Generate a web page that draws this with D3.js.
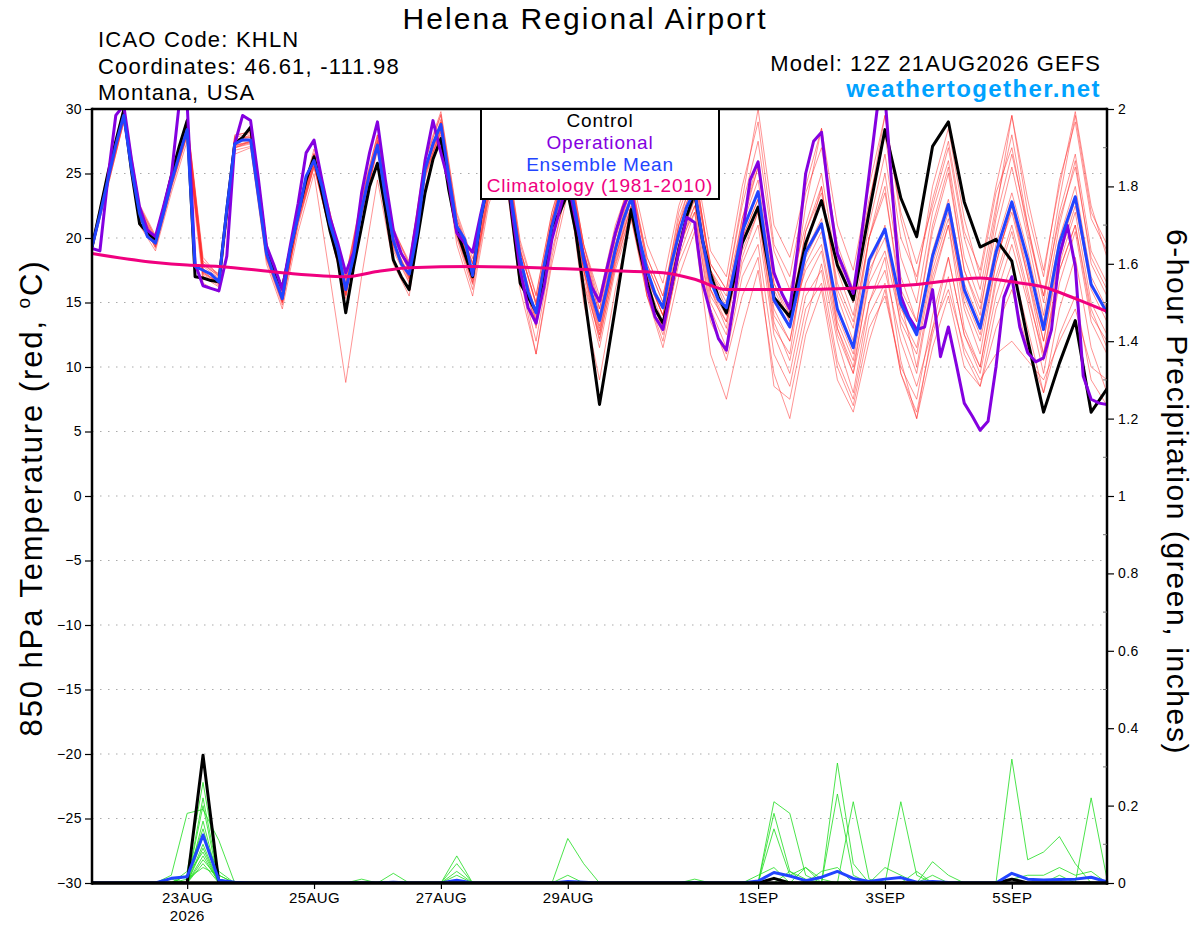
<!DOCTYPE html>
<html><head><meta charset="utf-8">
<script src="https://cdn.jsdelivr.net/npm/d3@7"></script>
<style>
body{margin:0;background:#fff}
text{font-family:"Liberation Sans",Arial,Helvetica,sans-serif}
</style>
</head><body>
<svg id="c" width="1200" height="927"></svg>
<script>
// ---------------- DATA ----------------
const hoursOp = d3.range(0, 385, 3);                               // operational: 3-hourly
const hoursMain = d3.range(0, 241, 3).concat(d3.range(246, 385, 6)); // control / mean
const hours6 = d3.range(0, 385, 6);                                // members, precip

const operationalT = [
 19.2,19.0,24.6,29.5,30.3,26.0,22.4,20.6,
 20.1,22.4,24.8,30.4,30.4,18.0,16.3,16.1,
 15.9,18.6,27.3,29.5,29.1,24.5,19.4,17.8,
 16.0,19.4,22.7,26.6,27.6,24.5,21.6,19.6,
 17.3,18.9,23.5,26.6,29.0,24.5,20.6,18.8,
 17.8,21.6,26.0,29.1,26.6,24.3,20.4,19.6,
 18.9,21.8,24.5,27.0,27.5,22.0,17.5,14.6,
 13.4,16.2,19.9,22.2,24.5,21.4,18.5,16.2,
 15.1,17.8,20.4,22.4,23.8,20.0,16.2,13.9,
 12.9,16.0,19.0,21.6,21.2,16.5,14.2,12.2,
 11.3,15.2,20.2,24.5,25.9,21.4,17.3,15.7,
 14.5,19.2,25.0,27.5,28.2,22.9,18.8,17.3,
 15.7,20.0,24.9,29.9,31.0,23.0,15.5,13.9,
 12.9,13.1,16.0,10.8,13.1,10.2,7.2,6.2,
 5.1,5.8,10.0,15.4,17.0,13.1,11.1,10.4,
 10.7,12.9,18.6,21.0,17.8,9.3,7.5,7.2,
 7.1];

const controlT = [
 19.3,22.1,25.0,27.5,29.9,25.1,21.1,20.4,
 19.9,22.2,24.8,27.1,29.1,17.0,16.9,16.7,
 16.6,22.2,27.3,27.8,28.6,24.0,19.1,17.5,
 16.1,19.1,21.9,24.5,26.3,23.5,20.6,18.3,
 14.2,17.8,20.9,24.0,25.8,22.2,18.3,17.0,
 16.0,19.8,23.5,26.1,27.7,23.7,20.6,18.8,
 17.0,21.5,24.5,26.0,26.5,21.5,16.5,15.4,
 14.3,16.5,20.9,22.0,23.5,20.5,16.0,11.5,
 7.1,10.8,14.6,18.5,22.2,19.2,16.6,14.5,
 13.4,16.0,19.1,21.7,23.5,19.8,17.2,15.4,
 14.2,
 19.6,22.4,15.4,13.9,19.6,22.9,17.9,15.2,
 22.0,28.4,23.1,20.1,27.1,29.0,22.8,19.3,
 19.9,18.2,12.1,6.5,10.3,13.6,6.5,8.3];

const meanT = [
 19.3,21.8,24.5,27.2,29.5,25.3,21.9,20.1,
 19.6,21.9,24.3,26.4,28.4,17.8,17.5,17.2,
 16.6,22.2,27.3,27.6,27.6,23.2,18.8,17.0,
 15.3,19.1,21.7,24.8,26.0,24.0,21.1,19.1,
 16.0,18.6,22.2,25.0,27.2,23.2,19.8,18.0,
 17.2,20.4,25.3,27.3,28.8,24.8,20.9,19.9,
 17.1,21.5,24.5,26.5,27.0,22.5,18.5,15.8,
 14.2,17.8,20.9,23.2,25.0,21.9,18.3,15.7,
 13.6,16.3,19.1,21.4,23.1,20.0,17.5,15.7,
 14.6,17.8,20.3,22.4,23.7,19.8,16.7,15.2,
 14.6,
 20.5,23.6,15.2,13.1,18.9,21.1,14.5,11.5,
 18.3,20.7,14.9,12.5,18.6,22.6,16.0,13.0,
 18.9,22.8,18.3,12.9,19.6,23.2,16.4,14.2];

const climHours = [0,24,36,48,72,96,108,120,144,168,192,216,228,240,264,288,312,336,348,360,372,384];
const climT     = [18.8,18.1,17.9,17.8,17.3,17.0,17.4,17.7,17.8,17.7,17.5,17.3,16.8,16.0,16.0,16.1,16.4,16.9,16.6,16.2,15.3,14.3];

const memberT = [
 [19.5,25.0,30.0,22.5,20.0,24.5,29.0,18.0, 17.0,27.5,28.0,19.5,16.0,22.5,26.5,21.5, 16.5,23.0,28.0,20.5,18.0,26.0,29.5,21.5, 18.0,25.0,28.0,19.5,15.5,22.0,26.5,19.5, 15.0,20.5,25.0,19.5,16.5,22.5,26.0,19.0, 17.0,24.0,29.0,19.5,17.0,23.5,27.0,19.5, 16.0,23.0,28.0,20.0,17.0,23.0,27.5,20.5, 17.5,24.0,29.5,22.0,17.0,24.5,29.0,21.5,19.0],
 [19.0,24.0,29.0,21.5,19.5,24.0,28.0,17.0, 16.5,27.0,27.5,18.5,15.0,21.0,25.5,20.5, 15.5,22.0,27.0,19.5,17.0,25.0,29.0,21.0, 17.5,24.5,27.5,19.0,15.0,21.5,26.0,19.0, 14.0,20.0,24.0,18.5,15.5,21.5,25.0,18.0, 16.0,23.0,30.0,21.0,18.5,24.0,28.5,21.0, 17.5,24.0,29.5,22.0,18.0,22.5,27.0,20.0, 16.0,22.5,28.0,21.0,15.0,22.0,26.5,19.0,16.5],
 [19.4,24.8,29.8,22.2,19.8,25.0,29.2,18.5, 17.0,28.0,28.2,19.5,15.5,22.0,26.5,22.0, 17.0,23.0,27.5,20.0,17.5,25.5,29.0,21.5, 18.0,24.5,27.0,18.0,13.0,20.0,25.0,17.5, 12.5,18.5,23.0,17.0,14.0,21.0,25.5,17.5, 15.0,21.0,25.5,17.5,14.0,22.5,28.5,18.5, 15.0,22.5,29.5,21.5,16.5,24.0,28.5,21.5, 17.0,23.5,27.0,20.5,15.5,23.0,29.5,22.0,19.5],
 [19.2,24.3,29.2,21.5,19.3,24.0,28.0,17.0, 16.2,27.0,27.3,18.3,14.8,21.3,25.5,20.5, 15.3,21.8,27.0,19.0,16.5,24.8,28.5,20.3, 16.5,23.5,26.5,18.0,13.5,20.5,25.0,17.5, 13.0,18.5,22.5,17.0,14.0,19.5,23.0,16.0, 14.0,20.0,23.0,14.5,12.0,18.0,20.5,13.5, 10.5,17.5,20.0,14.0,11.5,18.0,22.0,15.0, 12.0,18.0,22.5,17.5,12.0,19.0,23.0,16.0,13.5],
 [19.6,24.8,29.6,22.3,19.9,24.6,28.7,17.8, 16.9,27.6,27.9,19.2,15.6,22.0,26.3,21.4, 16.4,22.6,27.6,20.3,17.6,25.6,28.9,21.0, 17.3,24.3,27.3,19.0,14.8,21.3,26.0,19.0, 14.5,20.0,24.0,17.0,14.0,20.0,23.0,15.5, 13.5,19.5,22.5,14.0,12.0,18.5,21.0,14.0, 11.0,18.0,20.5,14.5,12.5,19.0,23.0,16.5, 13.5,19.5,23.5,19.0,13.5,20.0,24.0,17.0,14.5],
 [19.1,24.2,29.0,21.6,19.2,23.8,27.9,17.2, 16.3,26.8,27.1,18.4,15.0,21.2,25.6,20.7, 15.6,21.7,26.8,19.3,16.8,24.8,28.4,20.4, 16.6,23.6,26.6,18.0,13.8,20.2,24.8,17.6, 12.8,18.2,22.4,16.8,14.0,19.5,22.5,16.0, 13.5,21.0,24.5,16.0,13.5,17.5,19.5,13.0, 10.0,16.5,19.0,13.5,11.0,17.5,21.5,15.5, 12.5,18.5,22.0,17.0,12.0,18.5,22.5,16.5,14.0],
 [19.3,24.6,29.4,21.8,19.5,24.2,28.2,17.4, 16.5,27.2,27.4,18.6,15.2,21.5,25.8,20.9, 15.8,22.0,27.0,19.5,16.8,25.0,28.2,20.0, 16.0,23.0,26.0,17.0,12.0,19.0,24.0,16.5, 11.5,17.5,21.5,15.5,12.5,18.0,21.0,13.5, 11.0,17.0,19.5,11.0,8.5,14.5,16.5,10.0, 7.0,13.0,15.5,10.0,7.5,14.0,18.5,12.5, 9.5,15.5,19.5,15.0,9.5,16.5,20.5,13.5,11.0],
 [19.4,24.4,29.3,21.7,19.4,24.4,28.5,17.6, 16.7,27.4,27.6,18.9,15.1,21.6,25.9,21.0, 15.9,22.3,27.3,19.6,16.9,25.2,28.7,20.6, 16.8,23.8,26.8,18.2,13.5,20.5,25.0,17.5, 12.0,18.0,22.0,15.5,12.0,18.5,22.0,14.5, 11.5,18.0,21.0,12.5,9.5,15.5,17.5,10.5, 7.5,14.0,16.5,9.5,6.5,12.5,17.0,11.0, 8.5,14.5,18.0,13.0,8.0,14.5,18.5,11.5,8.0],
 [19.0,24.0,29.0,21.0,19.0,23.5,27.5,16.5, 15.8,26.5,27.0,18.0,14.5,20.5,25.0,17.0, 8.8,17.0,24.5,18.0,15.5,24.0,28.0,19.5, 15.5,22.5,26.5,17.0,11.0,18.5,24.5,15.0, 9.0,16.0,21.5,16.0,13.0,19.0,24.0,17.0, 14.0,19.0,22.0,13.0,11.0,19.0,24.0,16.0, 13.0,20.0,24.0,15.0,10.0,17.0,21.0,13.0, 10.0,17.0,21.0,16.0,10.5,17.5,21.0,14.0,12.0],
 [19.5,24.6,29.7,22.0,19.7,24.7,28.8,17.9, 17.1,27.7,27.8,19.0,15.4,21.9,26.2,21.3, 16.2,22.4,27.4,20.0,17.4,25.4,29.2,21.2, 17.4,24.2,27.2,18.6,14.0,21.0,25.8,18.5, 13.5,19.5,23.5,15.5,11.5,17.0,20.5,11.0, 7.5,13.0,17.5,9.5,6.0,12.5,16.0,9.0, 6.5,12.0,16.0,9.5,6.0,11.5,15.5,10.0, 8.5,13.0,16.0,11.5,8.0,12.5,15.5,9.0,7.0],
 [19.2,24.7,29.9,22.4,20.1,24.9,29.0,18.2, 17.2,27.8,28.1,19.4,15.8,22.2,26.6,21.8, 16.8,22.8,27.8,20.6,18.2,26.2,29.8,22.0, 18.4,25.0,27.8,19.8,15.6,22.0,26.0,19.5, 15.5,21.0,24.5,18.0,15.0,22.0,25.5,17.5, 14.5,21.5,26.0,16.5,13.5,20.5,24.0,15.5, 12.0,20.0,25.0,17.0,13.5,20.5,25.0,17.5, 14.0,21.5,26.5,21.0,15.5,21.5,25.5,18.5,16.0],
 [19.3,24.4,29.4,21.9,19.6,24.3,28.3,17.3, 16.4,27.1,27.5,18.7,15.2,21.7,26.1,20.8, 15.6,22.0,27.1,19.6,17.0,25.1,28.6,20.8, 16.8,23.0,25.5,16.0,11.0,18.0,23.5,16.5, 12.5,18.5,22.5,17.0,14.5,20.5,24.0,16.0, 13.0,20.0,23.0,15.0,13.0,19.0,21.5,13.0, 9.5,17.0,21.0,13.0,9.5,16.5,21.0,14.5, 11.0,18.0,22.5,17.0,11.0,18.0,22.0,15.0,12.5],
 [19.6,25.2,30.2,22.6,20.2,24.8,29.3,18.0, 17.2,27.9,28.3,19.6,16.0,22.4,26.9,22.0, 17.0,23.2,28.0,20.8,18.0,26.0,29.6,21.8, 18.0,24.8,27.6,19.0,15.0,21.5,26.5,19.5, 14.5,20.5,24.5,18.5,15.5,21.0,24.5,18.0, 16.0,22.5,27.5,19.0,16.0,21.0,25.0,17.5, 14.0,21.0,26.5,18.5,15.0,22.0,26.0,18.5, 15.0,22.0,29.5,23.0,17.5,24.0,29.8,22.5,18.5],
 [19.4,24.5,29.5,21.8,19.4,24.2,28.2,17.3, 16.5,27.2,27.5,18.6,15.0,21.4,25.7,20.6, 15.6,21.8,26.9,19.2,16.6,24.6,28.3,20.2, 16.4,23.3,26.4,17.6,13.2,19.8,24.6,17.0, 12.2,17.8,22.0,16.0,13.0,19.0,22.5,15.0, 12.5,18.5,22.0,13.5,10.5,16.5,19.0,12.5, 9.5,15.0,17.5,12.0,8.5,13.0,16.0,11.5, 9.0,11.0,12.0,10.5,9.0,12.0,14.5,10.0,9.0],
 [19.1,24.9,29.6,22.1,19.8,24.5,28.6,17.6, 16.8,27.5,27.8,19.0,15.5,22.0,26.2,21.2, 16.2,22.4,27.4,20.1,17.5,25.5,29.0,21.2, 17.5,24.5,27.5,19.2,14.8,21.5,26.0,19.0, 14.0,19.5,24.0,18.0,15.0,21.0,24.5,17.5, 15.5,21.5,25.5,16.5,14.0,20.5,23.5,16.5, 13.5,20.0,23.5,16.0,13.5,21.0,25.5,17.5, 14.5,20.5,25.5,20.0,14.0,21.0,26.0,18.0,15.5],
 [19.3,24.3,29.2,21.6,19.3,24.0,28.1,17.4, 16.5,27.0,27.4,18.5,15.1,21.6,25.9,20.8, 15.8,22.1,27.1,19.7,17.1,25.2,28.9,20.8, 17.0,24.0,27.0,18.4,14.2,20.8,25.3,18.0, 13.2,19.0,23.0,16.5,13.5,19.5,22.0,14.0, 10.5,15.5,18.5,8.5,7.5,13.5,18.0,12.0, 8.0,15.0,18.5,10.5,6.0,13.0,18.5,12.5, 10.0,16.5,20.5,15.5,11.0,17.5,21.0,14.5,11.5]
];

const Z8 = [0,0,0,0,0,0,0,0];
const controlP = [0,0,0,0,0,0,0,0.33, ...Z8, ...Z8, ...Z8, ...Z8, 0,0,0,0.012,0,0,0,0, ...Z8, 0,0,0.01,0,0,0,0,0, 0];
const meanP = [
 0,0,0,0,0,0.012,0.016,0.124,
 0.007,0.002,0,0,0,0,0,0,
 0,0,0,0.002,0,0,0,0.007,
 0,0,0,0,0,0,0.004,0.002,
 0,0,0,0,0,0,0.001,0,
 0,0,0.005,0.027,0.018,0.006,0.015,0.03,
 0.012,0.004,0.01,0.014,0.002,0.004,0.001,0,
 0,0,0.025,0.01,0.008,0.009,0.01,0.015,
 0.003];
const memberP = [
 [0,0,0,0,0,0,0.03,0.26, 0.02,0,0,0,0,0,0,0, ...Z8,...Z8,...Z8, 0,0,0,0.21,0.18,0.02,0,0, ...Z8,...Z8, 0],
 [0,0,0,0,0,0.02,0.18,0.19, 0.11,0,0,0,0,0,0,0, ...Z8,...Z8,...Z8, 0,0,0,0,0,0,0,0.31, 0.05,0,0,0,0,0,0,0, 0,0,0.32,0.06,0.08,0.12,0.05,0, 0],
 [0,0,0,0,0,0,0,0.22, 0.01,0,0,0,0,0,0,0, 0,0,0,0,0,0,0,0.07, ...Z8,...Z8, 0,0,0,0.18,0.03,0,0,0.23, 0.02,0,0,0,0,0,0,0, ...Z8, 0],
 [0,0,0,0,0,0,0,0.2, ...Z8, 0,0,0,0,0,0,0,0.05, 0,0,0,0,0,0,0.115,0.05, ...Z8,...Z8, 0.21,0.01,0,0.21,0.02,0,0,0, ...Z8, 0],
 [0,0,0,0,0,0,0,0.16, ...Z8, 0,0,0,0.025,0,0,0,0, ...Z8,...Z8, 0,0,0,0.14,0.02,0.04,0,0, 0,0,0,0,0,0.055,0.02,0, 0,0,0,0,0,0,0,0.22, 0.01],
 [0,0,0,0,0,0,0.02,0.14, ...Z8, 0,0,0,0,0,0,0,0.03, ...Z8,...Z8, 0,0,0,0,0,0.04,0.01,0, ...Z8, 0,0,0.01,0.02,0.02,0.04,0.02,0.03, 0],
 [0,0,0,0,0,0,0,0.12, 0.03,0,0,0,0,0,0,0, ...Z8,...Z8,...Z8,...Z8, 0,0,0.04,0.02,0,0,0,0, ...Z8, 0],
 [0,0,0,0,0,0,0,0.1, ...Z8,...Z8,...Z8,...Z8, 0,0,0.02,0.04,0,0,0,0, 0,0,0,0,0.03,0,0,0, ...Z8, 0],
 [0,0,0,0,0,0,0,0.09, ...Z8,...Z8, 0,0,0,0,0,0,0.02,0, ...Z8, 0,0,0,0,0,0,0.03,0.04, ...Z8,...Z8, 0],
 [0,0,0,0,0,0,0.02,0.08, ...Z8, 0,0,0,0,0,0,0,0.02, ...Z8,...Z8, 0,0,0,0,0.03,0.01,0,0, ...Z8,...Z8, 0],
 [0,0,0,0,0,0,0,0.07, ...Z8,...Z8,...Z8, 0,0,0,0,0,0,0.01,0, ...Z8, 0,0,0,0,0,0.02,0,0, ...Z8, 0],
 [0,0,0,0,0,0,0,0.06, 0.01,0,0,0,0,0,0,0, ...Z8,...Z8,...Z8,...Z8,...Z8, 0,0,0,0,0,0.02,0,0, 0],
 [0,0,0,0,0,0.01,0,0.05, ...Z8,...Z8,...Z8,...Z8,...Z8,...Z8,...Z8, 0],
 [0,0,0,0,0,0,0.01,0.04, 0.02,0,0,0,0,0,0,0, 0,0.01,0,0,0,0,0,0, ...Z8,...Z8,...Z8,...Z8,...Z8, 0]
];

const tempTicks = [-30,-25,-20,-15,-10,-5,0,5,10,15,20,25,30];
const precipTicks = [0,0.2,0.4,0.6,0.8,1,1.2,1.4,1.6,1.8,2];
const precipMinor = [0.1,0.3,0.5,0.7,0.9,1.1,1.3,1.5,1.7,1.9];
const dateTickHours = [36,84,132,180,252,300,348];
const dateTickLabels = ["23AUG","25AUG","27AUG","29AUG","1SEP","3SEP","5SEP"];
const yearLabel = "2026";

const legendItems = [
 {label:"Control", color:"#000000"},
 {label:"Operational", color:"#8400e0"},
 {label:"Ensemble Mean", color:"#2244ff"},
 {label:"Climatology (1981-2010)", color:"#f0007f"}
];

// ---------------- DRAW ----------------
const svg = d3.select("#c");
svg.append("rect").attr("width",1200).attr("height",927).attr("fill","#fff");

const L = 92, R = 1107, T = 109, B = 883;
const x = d3.scaleLinear().domain([0,384]).range([L,R]);
const yT = d3.scaleLinear().domain([-30,30]).range([B,T]);
const yP = d3.scaleLinear().domain([0,2]).range([B,T]);

svg.append("defs").append("clipPath").attr("id","clip")
  .append("rect").attr("x",L).attr("y",T).attr("width",R-L).attr("height",B-T);

// gridlines
svg.append("g").selectAll("line").data(tempTicks.filter(d=>d>-30&&d<30)).join("line")
  .attr("x1",L).attr("x2",R).attr("y1",d=>yT(d)).attr("y2",d=>yT(d))
  .attr("stroke","#aaaaaa").attr("stroke-width",1.2).attr("stroke-dasharray","1.5,6.5");

const plot = svg.append("g").attr("clip-path","url(#clip)");
const lineT = (hrs) => d3.line().x((d,i)=>x(hrs[i])).y(d=>yT(d));
const lineP = (hrs) => d3.line().x((d,i)=>x(hrs[i])).y(d=>yP(d));

// ensemble members (temperature)
plot.append("g").selectAll("path").data(memberT).join("path")
  .attr("d", lineT(hours6)).attr("fill","none")
  .attr("stroke","#ff3030").attr("stroke-width",0.8).attr("stroke-opacity",0.65);

// ensemble members (precip)
plot.append("g").selectAll("path").data(memberP).join("path")
  .attr("d", lineP(hours6)).attr("fill","none")
  .attr("stroke","#22dd22").attr("stroke-width",0.9).attr("stroke-opacity",0.9);

// precip control & mean
plot.append("path").datum(controlP).attr("d", lineP(hours6))
  .attr("fill","none").attr("stroke","#000").attr("stroke-width",3).attr("stroke-linejoin","round");
plot.append("path").datum(meanP).attr("d", lineP(hours6))
  .attr("fill","none").attr("stroke","#2244ff").attr("stroke-width",3).attr("stroke-linejoin","round");

// temperature bold lines
plot.append("path").datum(controlT).attr("d", lineT(hoursMain))
  .attr("fill","none").attr("stroke","#000").attr("stroke-width",3).attr("stroke-linejoin","round");
plot.append("path").datum(operationalT).attr("d", lineT(hoursOp))
  .attr("fill","none").attr("stroke","#8400e0").attr("stroke-width",3).attr("stroke-linejoin","round");
plot.append("path").datum(meanT).attr("d", lineT(hoursMain))
  .attr("fill","none").attr("stroke","#2244ff").attr("stroke-width",3).attr("stroke-linejoin","round");
plot.append("path").datum(climT).attr("d", d3.line().curve(d3.curveMonotoneX).x((d,i)=>x(climHours[i])).y(d=>yT(d)))
  .attr("fill","none").attr("stroke","#f0007f").attr("stroke-width",3);

// frame
svg.append("line").attr("x1",L).attr("x2",R).attr("y1",T).attr("y2",T).attr("stroke","#000").attr("stroke-width",2.5);
svg.append("line").attr("x1",L).attr("x2",R+1.2).attr("y1",B).attr("y2",B).attr("stroke","#000").attr("stroke-width",3.5);
svg.append("line").attr("x1",L).attr("x2",L).attr("y1",T-1.2).attr("y2",B+1.7).attr("stroke","#000").attr("stroke-width",2.5);
svg.append("line").attr("x1",R).attr("x2",R).attr("y1",T-1.2).attr("y2",B+1.7).attr("stroke","#000").attr("stroke-width",2.5);

// left axis
const axL = svg.append("g").attr("transform",`translate(${L-1},0)`)
  .call(d3.axisLeft(yT).tickValues(tempTicks).tickSize(6).tickPadding(3).tickFormat(d3.format("d")));
axL.select(".domain").remove();
axL.selectAll("line").attr("stroke-width",1.2);
axL.selectAll("text").attr("font-size",14).attr("fill","#000")
  .style("font-family",'"Liberation Sans",Arial,sans-serif').style("letter-spacing","0.4px");

// right axis
const axR = svg.append("g").attr("transform",`translate(${R+1},0)`)
  .call(d3.axisRight(yP).tickValues(precipTicks).tickSize(6).tickPadding(4).tickFormat(d3.format("~g")));
axR.select(".domain").remove();
axR.selectAll("line").attr("stroke-width",1.2);
axR.selectAll("text").attr("font-size",14).attr("fill","#000")
  .style("font-family",'"Liberation Sans",Arial,sans-serif').style("letter-spacing","0.4px");
svg.append("g").selectAll("line").data(precipMinor).join("line")
  .attr("x1",R-4).attr("x2",R).attr("y1",d=>yP(d)).attr("y2",d=>yP(d))
  .attr("stroke","#777").attr("stroke-width",1);

// bottom axis
const axB = svg.append("g").attr("transform",`translate(0,${B+1})`)
  .call(d3.axisBottom(x).tickValues(dateTickHours).tickSize(5).tickPadding(3)
    .tickFormat((d,i)=>dateTickLabels[i]));
axB.select(".domain").remove();
axB.selectAll("line").attr("stroke-width",1.2);
axB.selectAll("text").attr("font-size",15).attr("fill","#000")
  .style("font-family",'"Liberation Sans",Arial,sans-serif').style("letter-spacing","0.4px");
svg.append("text").attr("x",x(dateTickHours[0])).attr("y",921).attr("text-anchor","middle")
  .attr("font-size",15).style("letter-spacing","0.4px").text(yearLabel);

// legend
const lg = svg.append("g");
lg.append("rect").attr("x",481).attr("y",T).attr("width",238).attr("height",90)
  .attr("fill","#fff").attr("stroke","#000").attr("stroke-width",2);
lg.selectAll("text").data(legendItems).join("text")
  .attr("x",600).attr("y",(d,i)=>127+i*21.8).attr("text-anchor","middle")
  .attr("font-size",19).style("letter-spacing","0.8px")
  .attr("fill",d=>d.color).text(d=>d.label);

// titles
svg.append("text").attr("x",585).attr("y",29).attr("text-anchor","middle")
  .attr("font-size",30).style("letter-spacing","2.1px").text("Helena Regional Airport");
const info = ["ICAO Code: KHLN","Coordinates: 46.61, -111.98","Montana, USA"];
svg.append("g").selectAll("text").data(info).join("text")
  .attr("x",98).attr("y",(d,i)=>47+i*26.7).attr("font-size",22).style("letter-spacing","1.2px").text(d=>d);
svg.append("text").attr("x",1101).attr("y",71).attr("text-anchor","end")
  .attr("font-size",22).style("letter-spacing","1.1px").text("Model: 12Z 21AUG2026 GEFS");
svg.append("text").attr("x",1101).attr("y",97).attr("text-anchor","end")
  .attr("font-size",24).attr("font-weight","bold").attr("fill","#00a2ff")
  .style("letter-spacing","1.4px").text("weathertogether.net");

// axis titles
const lt = svg.append("text").attr("transform","translate(42,498) rotate(-90)")
  .attr("text-anchor","middle").attr("font-size",31).style("letter-spacing","1.9px");
lt.append("tspan").text("850 hPa Temperature (red, ");
lt.append("tspan").attr("font-size",19).attr("dy",-12).text("o");
lt.append("tspan").attr("dy",12).text("C)");
svg.append("text").attr("transform","translate(1167,492) rotate(90)")
  .attr("text-anchor","middle").attr("font-size",30).style("letter-spacing","1.6px")
  .text("6-hour Precipitation (green, inches)");
</script>
</body></html>
